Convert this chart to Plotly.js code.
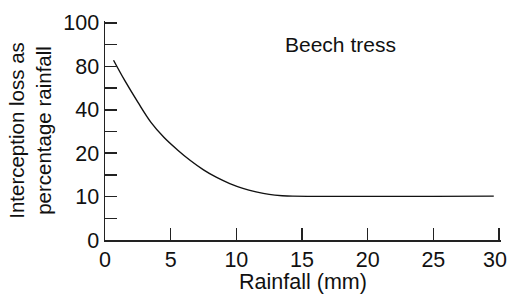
<!DOCTYPE html>
<html>
<head>
<meta charset="utf-8">
<script src="https://cdn.plot.ly/plotly-3.0.1.min.js"></script>
<style>html,body{margin:0;padding:0;background:#fff;}#chart{width:509px;height:294px;}</style>
</head>
<body>
<div id="chart"></div>
<script>
// Rainfall (mm)
const rainfall = [0.65, 1.5, 2.5, 3.5, 4.5, 5.5, 6.5, 7.5, 8.5, 9.5, 10.5, 11.5, 12.5, 13.5, 14.3, 29.6];
// Interception loss, in the chart's vertical axis units (labelled non-linearly below)
const interception = [82.8, 73.5, 63.5, 54.2, 47.2, 41.6, 36.6, 32.3, 28.8, 26.0, 23.8, 22.2, 21.0, 20.4, 20.2, 20.2];
const yTickVals = [0, 10, 20, 30, 40, 50, 60, 70, 80, 90, 100];
const yTickText = ['0', '', '10', '', '20', '', '40', '', '80', '', '100'];
const xTickVals = [0, 5, 10, 15, 20, 25, 30];
const xTickText = ['0', '5', '10', '15', '20', '25', '30'];
const label = 'Beech tress';

const fam = 'Liberation Sans, Arial, sans-serif';
const font = {family: fam, size: 21.5, color: '#111'};

// The last x tick label is pulled inward so it stays inside the picture, as in the reference.
const lastIdx = xTickVals.length - 1;
const xTickShown = xTickText.map((t, i) => i === lastIdx ? '' : t);

Plotly.newPlot('chart', [{
  x: rainfall, y: interception, type: 'scatter', mode: 'lines',
  line: {color: '#111', width: 1.4, shape: 'spline', smoothing: 1},
  hoverinfo: 'skip', cliponaxis: false
}], {
  width: 509, height: 294,
  margin: {l: 105, r: 8, t: 21, b: 54},
  paper_bgcolor: '#fff', plot_bgcolor: '#fff',
  showlegend: false,
  font: font,
  xaxis: {
    range: [0, 30.15], tickvals: xTickVals, ticktext: xTickShown,
    ticks: 'inside', ticklen: 12, tickwidth: 1.5, tickcolor: '#222',
    showline: true, linecolor: '#222', linewidth: 1.5,
    showgrid: false, zeroline: false, ticklabeloverflow: 'allow',
    tickfont: font,
    title: {text: 'Rainfall (mm)', font: {family: fam, size: 21.5, color: '#111'}, standoff: 6}
  },
  yaxis: {
    range: [0, 100.9], tickvals: yTickVals, ticktext: yTickText,
    ticks: 'inside', ticklen: 12, tickwidth: 1.5, tickcolor: '#222',
    showline: true, linecolor: '#222', linewidth: 1.5,
    showgrid: false, zeroline: false, ticklabeloverflow: 'allow',
    tickfont: font,
    title: {text: 'Interception loss as<br>percentage rainfall', font: {family: fam, size: 20.5, color: '#111'}, standoff: 6}
  },
  annotations: [{
    x: 17.9, y: 90.3, xref: 'x', yref: 'y', text: label, showarrow: false,
    font: {family: fam, size: 21, color: '#111'}
  }, {
    x: xTickVals[lastIdx], y: 0, xref: 'x', yref: 'y', text: xTickText[lastIdx], showarrow: false,
    xanchor: 'center', yanchor: 'middle', xshift: -4, yshift: -20, borderpad: 0,
    font: font
  }]
}, {displayModeBar: false, staticPlot: true});
</script>
</body>
</html>
